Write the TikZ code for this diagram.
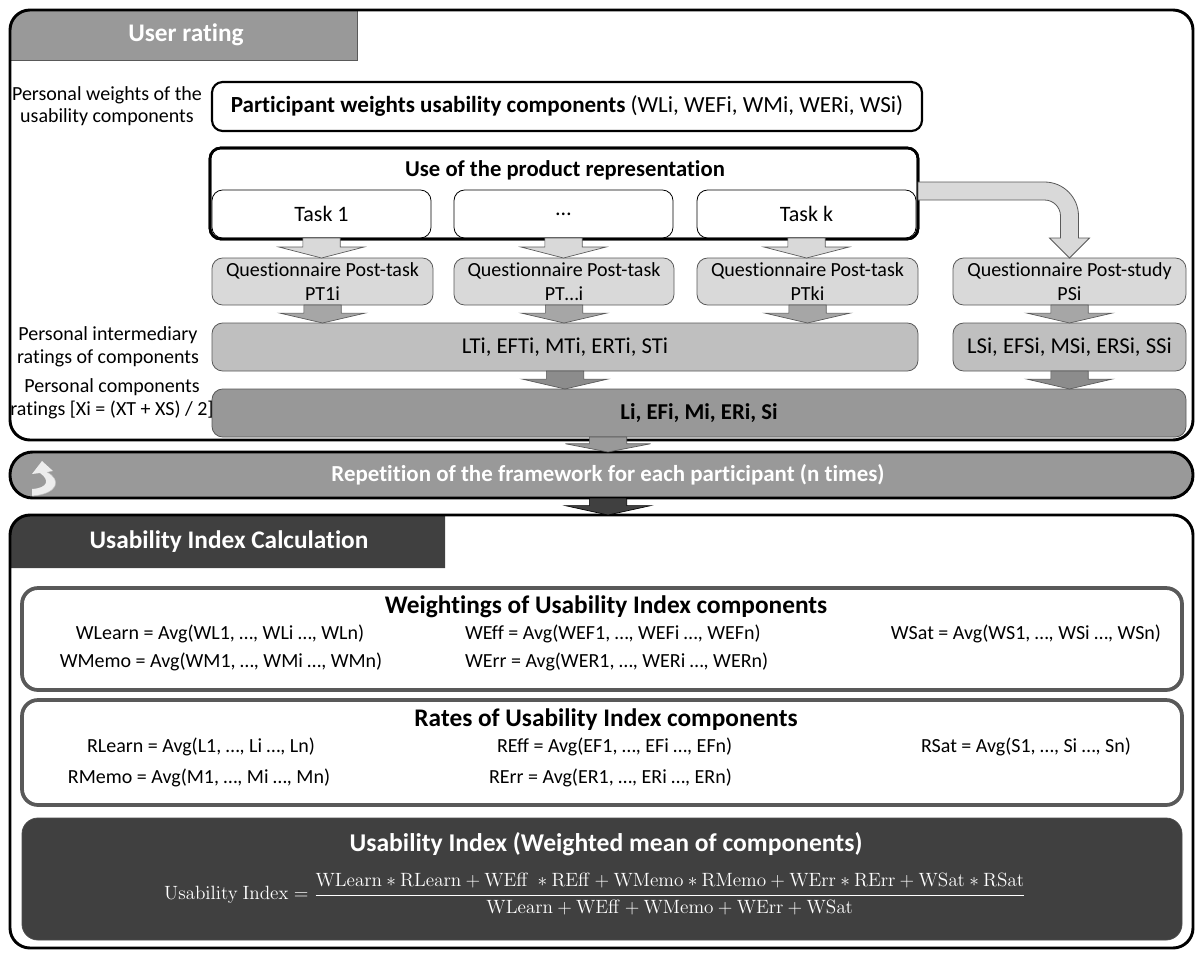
\documentclass[tikz,border=0pt]{standalone}
\usepackage[no-math]{fontspec}
\setmainfont{Carlito}[Ligatures=NoCommon]
\usetikzlibrary{calc}

\definecolor{tabgray}{HTML}{999999}
\definecolor{ratebar}{HTML}{989898}
\definecolor{midgray}{HTML}{BFBFBF}
\definecolor{qgray}{HTML}{D9D9D9}
\definecolor{darkfill}{HTML}{404040}
\definecolor{edgegray}{HTML}{595959}
\definecolor{arrowmid}{HTML}{A6A6A6}
\definecolor{arrowdark}{HTML}{8C8C8C}

\newcommand\px[1]{#1*0.75pt}

% flat block arrow from a point straight down to another point
\newcommand\blockarrow[3][]{%
  \draw[blockarr,#1] let \p1=#2, \p2=#3, \p3=($#2!0.45!#3$) in
    (\x1-14pt,\y1) -- (\x1-14pt,\y3) -- (\x1-32pt,\y3) -- (\x1,\y2)
    -- (\x1+32pt,\y3) -- (\x1+14pt,\y3) -- (\x1+14pt,\y1) -- cycle;}

\begin{document}
\begin{tikzpicture}[x=0.75pt,y=-0.75pt,
  every node/.style={inner sep=0pt, outer sep=0pt},
  frame/.style={draw=black, line width=2.2pt, rounded corners=15pt, anchor=north west},
  tabtext/.style={text=white, font=\fontsize{19}{23}\selectfont\bfseries},
  label/.style={align=center, font=\fontsize{15}{17}\selectfont},
  wbox/.style={draw=black, line width=1.6pt, rounded corners=8pt, fill=white, anchor=north west},
  taskbox/.style={draw=black, line width=0.6pt, rounded corners=8pt, fill=white, anchor=north west,
    font=\fontsize{16.5}{20}\selectfont},
  qbox/.style={draw=edgegray, line width=0.6pt, rounded corners=8pt, fill=qgray, anchor=north west,
    align=center, font=\fontsize{15}{17.5}\selectfont},
  ibox/.style={draw=edgegray, line width=0.6pt, rounded corners=8pt, fill=midgray, anchor=north west,
    font=\fontsize{17}{20}\selectfont},
  libox/.style={draw=edgegray, line width=0.6pt, rounded corners=8pt, fill=ratebar, anchor=north west,
    font=\fontsize{17}{20}\selectfont\bfseries},
  panel/.style={draw=edgegray, line width=2.8pt, rounded corners=12pt, anchor=north west},
  ptitle/.style={font=\fontsize{19}{22}\selectfont\bfseries},
  avg/.style={font=\fontsize{15}{18}\selectfont},
  blockarr/.style={draw=edgegray, line width=0.5pt},
  bigarr/.style={draw=edgegray, line width=0.6pt, fill=qgray}
]
\useasboundingbox (0,0) rectangle (1203,953);
\fill[white] (0,0) rectangle (1203,953);

% ---------------- User rating ----------------
\fill[tabgray] (10,60) -- (10,30) arc[start angle=180,end angle=90,radius=15pt] -- (357,10) -- (357,60) -- cycle;
\draw[edgegray, line width=0.6pt] (357,10) -- (357,60) -- (10,60);
\node[frame, minimum width=\px{1183}, minimum height=\px{430}] (ur) at (10,10) {};
\node[tabtext] (urt) at (186,35) {User rating};

\node[label] (lw) at (107,106) {Personal weights of the\\usability components};
\node[wbox, minimum width=\px{710}, minimum height=\px{49}, font=\fontsize{17.3}{20}\selectfont] (pw) at (212,82)
  {\textbf{Participant weights usability components} (WLi, WEFi, WMi, WERi, WSi)};

\node[wbox, line width=2pt, minimum width=\px{708}, minimum height=\px{91}] (use) at (210,148) {};
\node[font=\fontsize{17}{20}\selectfont\bfseries] (uset) at (565,170) {Use of the product representation};
\node[taskbox, minimum width=\px{219}, minimum height=\px{48}] (t1) at (212,190) {Task 1};
\node[taskbox, minimum width=\px{219}, minimum height=\px{48}] (t2) at (454,190) {…};
\node[taskbox, minimum width=\px{219}, minimum height=\px{48}] (tk) at (697,190) {Task k};
% outline of the task group drawn over the task boxes
\draw[black, line width=2pt, rounded corners=8pt] (use.north west) rectangle (use.south east);

\node[qbox, minimum width=\px{221}, minimum height=\px{47}] (q1) at (212,258) {Questionnaire Post-task\\PT1i};
\node[qbox, minimum width=\px{220}, minimum height=\px{47}] (q2) at (454,258) {Questionnaire Post-task\\PT…i};
\node[qbox, minimum width=\px{221}, minimum height=\px{47}] (q3) at (697,258) {Questionnaire Post-task\\PTki};
\node[qbox, minimum width=\px{233}, minimum height=\px{47}] (q4) at (953,258) {Questionnaire Post-study\\PSi};

\node[ibox, minimum width=\px{706}, minimum height=\px{48}] (it) at (212,323) {LTi, EFTi, MTi, ERTi, STi};
\node[ibox, minimum width=\px{233}, minimum height=\px{48}] (is) at (953,323) {LSi, EFSi, MSi, ERSi, SSi};
\node[label] (li_l) at (108,347) {Personal intermediary\\ratings of components};

\node[libox, minimum width=\px{974}, minimum height=\px{48}] (li) at (212,389) {Li, EFi, Mi, ERi, Si};
\node[label] (lc_l) at (112,399) {Personal components\\ratings [Xi = (XT + XS) / 2]};

% arrows between the rating levels
\blockarrow[fill=qgray]{(t1.south)}{(q1.north)}
\blockarrow[fill=qgray]{(t2.south)}{(q2.north)}
\blockarrow[fill=qgray]{(tk.south)}{(q3.north)}
\draw[bigarr] let \p1=(use.north east), \p2=(q4.north) in
  (\x1,\y1-25.5pt) -- (\x2-18.75pt,\y1-25.5pt) arc[start angle=90,end angle=0,radius=25.5pt]
  -- (\x2+6.75pt,\y2+15pt) -- (\x2+15pt,\y2+15pt) -- (\x2,\y2) -- (\x2-15pt,\y2+15pt)
  -- (\x2-6.75pt,\y2+15pt) -- (\x2-6.75pt,\y1-51pt) arc[start angle=0,end angle=90,radius=12pt]
  -- (\x1,\y1-39pt) -- cycle;
\blockarrow[fill=arrowmid]{(q1.south)}{(q1.south |- it.north)}
\blockarrow[fill=arrowmid]{(q2.south)}{(q2.south |- it.north)}
\blockarrow[fill=arrowmid]{(q3.south)}{(q3.south |- it.north)}
\blockarrow[fill=arrowmid]{(q4.south)}{(q4.south |- is.north)}
\blockarrow[fill=arrowdark]{(it.south)}{(it.south |- li.north)}
\blockarrow[fill=arrowdark]{(is.south)}{(is.south |- li.north)}

% ---------------- Repetition ----------------
\node[draw=black, line width=2.2pt, rounded corners=17pt, fill=tabgray, anchor=north west,
  minimum width=\px{1183}, minimum height=\px{46}] (rep) at (10,452) {};
\node[text=white, font=\fontsize{17.2}{20}\selectfont\bfseries] (rept) at (608,475)
  {Repetition of the framework for each participant (n times)};
% loop-back symbol
\fill[black!7] (42,461) -- (53,471) -- (47,472) .. controls (62,480) and (58,494) .. (32,496)
  -- (32,489) .. controls (48,488) and (50,480) .. (40,473) -- (32,474) -- cycle;
\draw[black!25, line width=0.4pt] (47,472) .. controls (62,480) and (58,494) .. (32,496);

\coordinate (lidrop) at ($(li.south west)+(396,0)$);
\blockarrow[fill=tabgray]{(lidrop)}{(lidrop |- rep.north)}

% ---------------- Usability Index Calculation ----------------
\fill[darkfill] (10,568) -- (10,535) arc[start angle=180,end angle=90,radius=15pt] -- (445,515) -- (445,568) -- cycle;
\node[frame, minimum width=\px{1183}, minimum height=\px{433}] (uic) at (10,515) {};
\node[tabtext] (uict) at (229,542) {Usability Index Calculation};

\coordinate (repdrop) at ($(rep.south west)+(598,0)$);
\blockarrow[fill=darkfill, draw=black]{(repdrop)}{(repdrop |- uic.north)}

% weightings
\node[panel, minimum width=\px{1160}, minimum height=\px{102}] (wp) at (22,588) {};
\node[ptitle] (wpt) at (606,607) {Weightings of Usability Index components};
\node[avg] (w1) at (220,634) {WLearn = Avg(WL1, …, WLi …, WLn)};
\node[avg, anchor=west] (w2) at (465,634) {WEff = Avg(WEF1, …, WEFi …, WEFn)};
\node[avg] (w3) at (1026,634) {WSat = Avg(WS1, …, WSi …, WSn)};
\node[avg] (w4) at (221,662) {WMemo = Avg(WM1, …, WMi …, WMn)};
\node[avg, anchor=west] (w5) at (465,662) {WErr = Avg(WER1, …, WERi …, WERn)};

% rates
\node[panel, minimum width=\px{1160}, minimum height=\px{105}] (rp) at (22,700) {};
\node[ptitle] (rpt) at (606,720) {Rates of Usability Index components};
\node[avg] (r1) at (201,747) {RLearn = Avg(L1, …, Li …, Ln)};
\node[avg, anchor=west] (r2) at (497,747) {REff = Avg(EF1, …, EFi …, EFn)};
\node[avg] (r3) at (1026,747) {RSat = Avg(S1, …, Si …, Sn)};
\node[avg] (r4) at (199,778) {RMemo = Avg(M1, …, Mi …, Mn)};
\node[avg, anchor=west] (r5) at (489,778) {RErr = Avg(ER1, …, ERi …, ERn)};

% index
\node[fill=darkfill, draw=black!70, line width=0.6pt, rounded corners=12pt, anchor=north west,
  minimum width=\px{1160}, minimum height=\px{122}] (ui) at (22,818) {};
\node[text=white, font=\fontsize{19.2}{22}\selectfont\bfseries] (uit) at (606,844)
  {Usability Index (Weighted mean of components)};
\node[text=white, font=\fontsize{15}{18}\selectfont] (uif) at (595,894)
  {$\displaystyle\mathrm{Usability\ Index} = \frac{\mathrm{WLearn}\ast\mathrm{RLearn}+\mathrm{WEff}\ \ast\mathrm{REff}+\mathrm{WMemo}\ast\mathrm{RMemo}+\mathrm{WErr}\ast\mathrm{RErr}+\mathrm{WSat}\ast\mathrm{RSat}}{\mathrm{WLearn}+\mathrm{WEff}+\mathrm{WMemo}+\mathrm{WErr}+\mathrm{WSat}}$};
\end{tikzpicture}
\end{document}
